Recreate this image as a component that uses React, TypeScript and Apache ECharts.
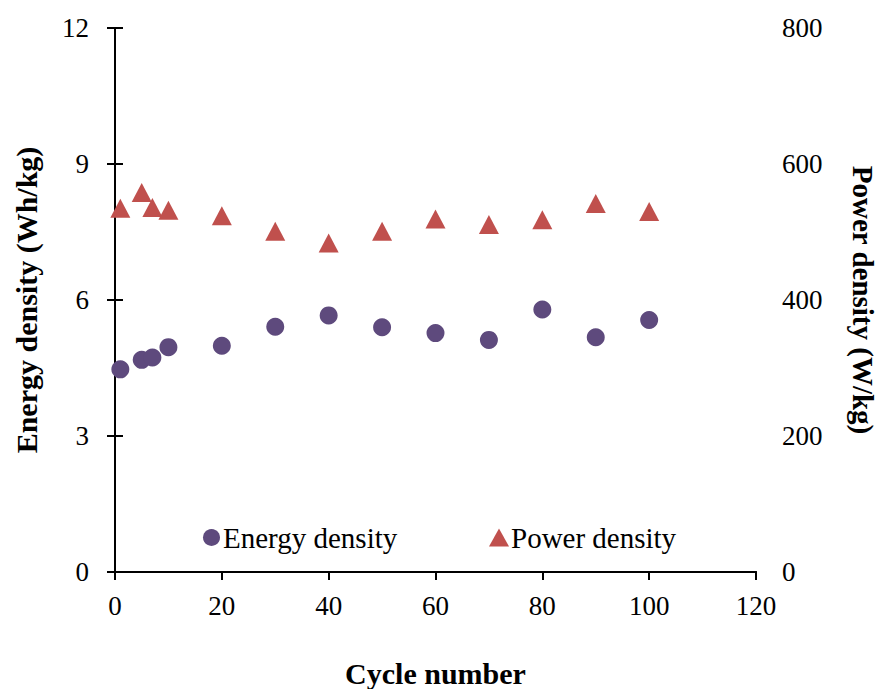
import React, { useEffect, useRef } from "react";
import * as echarts from "echarts";

const cycles = [1, 5, 7, 10, 20, 30, 40, 50, 60, 70, 80, 90, 100];
const energyDensity = [4.47, 4.68, 4.73, 4.96, 4.99, 5.41, 5.66, 5.40, 5.27, 5.12, 5.79, 5.18, 5.56];
const powerDensity = [535, 558, 536, 532, 524, 501, 484, 501, 519, 511, 518, 542, 530];
const xTicks = { min: 0, max: 120, interval: 20 };
const leftTicks = { min: 0, max: 12, interval: 3 };
const rightTicks = { min: 0, max: 800, interval: 200 };

const FONT = "'Liberation Serif', 'Times New Roman', serif";
const PURPLE = "#5E4A7D";
const RED = "#C0504D";

export default function App() {
  const ref = useRef<HTMLDivElement>(null);
  useEffect(() => {
    document.body.style.margin = "0";
    document.body.style.overflow = "hidden";
    if (!ref.current) return;
    const chart = echarts.init(ref.current, undefined, { renderer: "svg", width: 880, height: 689 });
    const axisLine = { show: true, lineStyle: { color: "#000", width: 2 } };
    const axisTick = { show: true, length: 8, inside: false, lineStyle: { color: "#000", width: 2 } };
    const label = { color: "#000", fontFamily: FONT, fontSize: 27 };
    const nameStyle = { color: "#000", fontFamily: FONT, fontSize: 30, fontWeight: "bold" as const };
    chart.setOption({
      animation: false,
      backgroundColor: "#fff",
      grid: { left: 115, right: 124, top: 28, bottom: 117, containLabel: false, outerBoundsMode: "none" },
      legend: [
        {
          left: 198,
          top: 518,
          itemWidth: 17,
          itemHeight: 17,
          itemGap: 5,
          data: [{ name: "Energy density", icon: "circle" }],
          textStyle: { color: "#000", fontFamily: FONT, fontSize: 29, padding: [0, 0, 0, -2] },
        },
        {
          left: 484,
          top: 518,
          itemWidth: 20,
          itemHeight: 18,
          data: [{ name: "Power density", icon: "triangle" }],
          textStyle: { color: "#000", fontFamily: FONT, fontSize: 29, padding: [0, 0, 0, -3] },
        },
      ],
      xAxis: [
        {
          type: "value",
          position: "bottom",
          min: xTicks.min,
          max: xTicks.max,
          interval: xTicks.interval,
          axisLine,
          axisTick,
          splitLine: { show: false },
          axisLabel: { ...label, margin: 20 },
          name: "Cycle number",
          nameLocation: "middle",
          nameGap: 86,
          nameTextStyle: nameStyle,
        },
        {
          type: "value",
          position: "top",
          min: xTicks.min,
          max: xTicks.max,
          axisLine,
          axisTick: { show: false },
          axisLabel: { show: false },
          splitLine: { show: false },
        },
      ],
      yAxis: [
        {
          type: "value",
          position: "left",
          min: leftTicks.min,
          max: leftTicks.max,
          interval: leftTicks.interval,
          axisLine,
          axisTick,
          splitLine: { show: false },
          axisLabel: { ...label, margin: 26 },
          name: "Energy density (Wh/kg)",
          nameLocation: "middle",
          nameGap: 74,
          nameRotate: 90,
          nameTextStyle: nameStyle,
        },
        {
          type: "value",
          position: "right",
          min: rightTicks.min,
          max: rightTicks.max,
          interval: rightTicks.interval,
          axisLine,
          axisTick,
          splitLine: { show: false },
          axisLabel: { ...label, margin: 26 },
          name: "Power density (W/kg)",
          nameLocation: "middle",
          nameGap: 92,
          nameRotate: -90,
          nameTextStyle: { ...nameStyle, fontSize: 29 },
        },
      ],
      series: [
        {
          name: "Energy density",
          type: "scatter",
          xAxisIndex: 0,
          yAxisIndex: 0,
          symbol: "circle",
          symbolSize: 18,
          itemStyle: { color: PURPLE, opacity: 1 },
          data: cycles.map((c, i) => [c, energyDensity[i]]),
        },
        {
          name: "Power density",
          type: "scatter",
          xAxisIndex: 0,
          yAxisIndex: 1,
          symbol: "triangle",
          symbolSize: [20, 19],
          itemStyle: { color: RED, opacity: 1 },
          data: cycles.map((c, i) => [c, powerDensity[i]]),
        },
      ],
    });
    return () => chart.dispose();
  }, []);
  return <div ref={ref} style={{ width: 880, height: 689 }} />;
}
